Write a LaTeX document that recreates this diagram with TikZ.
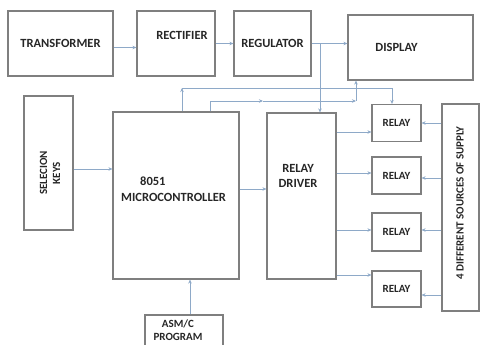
\documentclass[tikz,border=0pt]{standalone}
\usepackage{fontspec}
\setmainfont{Carlito}
\usetikzlibrary{arrows.meta,calc}
\definecolor{boxgray}{HTML}{7F7F7F}
\definecolor{wire}{HTML}{8EA9C8}
\definecolor{txt}{HTML}{262626}
\begin{document}
\begin{tikzpicture}[x=1pt,y=-1pt,
  box/.style={draw=boxgray,line width=1.2pt,rectangle,inner sep=0pt,align=center,
     text=txt,font=\bfseries\fontsize{12.5}{15}\selectfont},
  label/.style={text=txt,inner sep=0pt,align=center,font=\bfseries\fontsize{12.5}{15}\selectfont},
  small/.style={font=\bfseries\fontsize{11}{13}\selectfont},
  arr/.style={draw=wire,line width=0.8pt,-{Stealth[length=4pt,width=3.5pt]}},
  wireline/.style={draw=wire,line width=0.8pt}]
\useasboundingbox (0,0) rectangle (480,345);
% boxes
\node[box,minimum width=105pt,minimum height=65pt] (tr) at (60.5,43.5) {TRANSFORMER};
\node[box,minimum width=78pt,minimum height=65pt] (rect) at (176,43.5) {\hspace*{12pt}RECTIFIER\\[1pt]};
\node[box,minimum width=77pt,minimum height=65pt] (reg) at (272.5,43.5) {REGULATOR};
\node[box,minimum width=125pt,minimum height=65pt] (disp) at (410.5,47.5) {\hspace*{-28pt}DISPLAY};
\node[box,minimum width=49pt,minimum height=134pt] (keys) at (48.5,163) {};
\node[label,small,rotate=90] (keystext) at (50,173) {SELECION\\KEYS};
\node[box,minimum width=126pt,minimum height=167pt] (mc) at (176,195.5) {};
\node[label,anchor=west] (mctext1) at (140,181) {8051};
\node[label,anchor=west] (mctext2) at (121,197) {MICROCONTROLLER};
\node[box,minimum width=69pt,minimum height=166pt] (rd) at (301.5,196) {};
\node[label] (rdtext) at (298,176) {RELAY\\DRIVER};
\node[box,small,minimum width=49pt,minimum height=37pt] (r1) at (396.5,123) {RELAY};
\node[box,small,minimum width=49pt,minimum height=37pt] (r2) at (396.5,175.5) {RELAY};
\node[box,small,minimum width=49pt,minimum height=38pt] (r3) at (396.5,232) {RELAY};
\node[box,small,minimum width=49pt,minimum height=36pt] (r4) at (396.5,289) {RELAY};
\node[box,minimum width=37pt,minimum height=207pt] (src) at (460.5,207.5) {};
\node[label,small,rotate=90] (srctext) at (460,203) {4 DIFFERENT SOURCES OF SUPPLY};
\node[box,minimum width=78pt,minimum height=32pt] (asm) at (184,331) {};
\node[label,small] (asmtext) at (178,330) {ASM/C\\PROGRAM};
% power chain
\draw[arr] ($(tr.east)+(0,4)$) -- ($(tr.east -| rect.west)+(0,4)$);
\draw[arr] (rect.east) -- (rect.east -| reg.west);
\draw[arr] (reg.east) -- (reg.east -| disp.west);
\coordinate (j1) at (320,43.5);
\draw[arr] (j1) -- (j1 |- rd.north);
% bus lines from microcontroller
\coordinate (b1) at (182,88);
\coordinate (b1r) at (392,88);
\draw[arr] (b1 |- mc.north) -- (b1);
\draw[wireline] (b1) -- (b1r);
\draw[arr] (b1r) -- (b1r |- r1.north);
\coordinate (b2) at (210,101);
\coordinate (bm) at (263,101);
\coordinate (b3) at (356,101);
\draw[wireline] (b2 |- mc.north) -- (b2);
\draw[arr] (b2) -- (bm);
\draw[arr] (bm) -- (b3);
\draw[arr] (b3) -- (b3 |- disp.south);
% inputs to microcontroller
\draw[arr] ($(keys.east)+(0,6)$) -- ($(keys.east -| mc.west)+(0,6)$);
\draw[arr] ($(mc.east)+(0,-6.5)$) -- ($(mc.east -| rd.west)+(0,-6.5)$);
\coordinate (a1) at (190,0);
\draw[arr] (asm.north -| a1) -- (mc.south -| a1);
% driver to relays
\draw[arr] (rd.east |- 0,132) -- (r1.west |- 0,132);
\draw[arr] (rd.east |- 0,173) -- (r2.west |- 0,173);
\draw[arr] (rd.east |- 0,230) -- (r3.west |- 0,230);
\draw[arr] (rd.east |- 0,275) -- (r4.west |- 0,275);
% supplies to relays
\draw[arr] (src.west |- 0,123) -- (r1.east |- 0,123);
\draw[arr] (src.west |- 0,178) -- (r2.east |- 0,178);
\draw[arr] (src.west |- 0,230) -- (r3.east |- 0,230);
\draw[arr] (src.west |- 0,295) -- (r4.east |- 0,295);
\end{tikzpicture}
\end{document}
